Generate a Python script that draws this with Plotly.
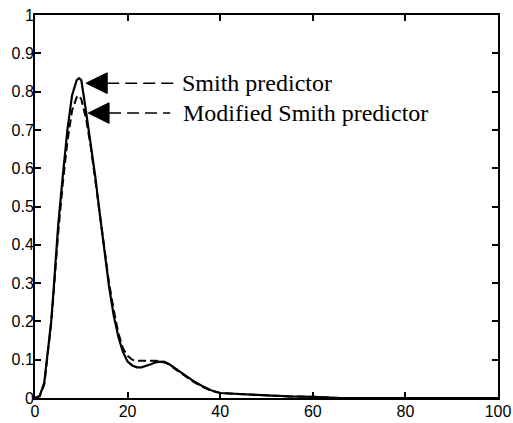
import plotly.graph_objects as go

# Smith predictor (solid)
x_smith = [0, 1, 2, 2.5, 3, 3.5, 4, 5, 6, 7, 8, 9, 9.5, 10, 11, 12, 13, 14, 15, 16, 17, 18, 19, 20,
           21, 22, 23, 24, 25, 26, 27, 28, 29, 30, 32, 34, 36, 38, 40, 45, 48, 50, 55, 60, 65, 66, 100]
y_smith = [0, 0.005, 0.04, 0.09, 0.15, 0.2, 0.28, 0.45, 0.58, 0.7, 0.79, 0.83, 0.835, 0.83, 0.75, 0.67,
           0.58, 0.48, 0.38, 0.29, 0.215, 0.16, 0.12, 0.095, 0.085, 0.08, 0.08, 0.083, 0.088, 0.093, 0.095,
           0.093, 0.088, 0.08, 0.062, 0.046, 0.032, 0.02, 0.013, 0.011, 0.008, 0.007, 0.004, 0.003, 0.002, 0, 0]

# Modified Smith predictor (dashed)
x_mod = [0, 1, 2, 2.5, 3, 3.5, 4, 5, 6, 7, 8, 9, 9.5, 10, 11, 12, 13, 14, 15, 16, 17, 18, 19, 20,
         21, 22, 24, 26, 28, 29, 30, 32, 34, 36, 38, 40, 45, 48, 50, 55, 60, 65, 66, 100]
y_mod = [0, 0.005, 0.035, 0.085, 0.14, 0.195, 0.27, 0.43, 0.56, 0.67, 0.75, 0.785, 0.79, 0.78, 0.73,
         0.66, 0.57, 0.48, 0.39, 0.3, 0.23, 0.17, 0.13, 0.11, 0.1, 0.097, 0.097, 0.097, 0.095, 0.088,
         0.078, 0.06, 0.044, 0.03, 0.019, 0.013, 0.011, 0.008, 0.007, 0.004, 0.003, 0.002, 0, 0]

x_ticks = [0, 20, 40, 60, 80, 100]
y_ticks = [0, 0.1, 0.2, 0.3, 0.4, 0.5, 0.6, 0.7, 0.8, 0.9, 1]
y_tick_labels = ["0", "0.1", "0.2", "0.3", "0.4", "0.5", "0.6", "0.7", "0.8", "0.9", "1"]

labels = ["Smith predictor", "Modified Smith predictor"]
# annotation anchor: (arrow tip x, arrow y, arrow base x, line end x, text x)
ann = [(11.0, 0.822, 15.6, 30.2, 31.4), (11.5, 0.744, 16.0, 29.2, 31.5)]
half_h = 0.027

fig = go.Figure()
fig.add_trace(go.Scatter(x=x_smith, y=y_smith, mode="lines",
                         line=dict(color="black", width=2.2), showlegend=False))
fig.add_trace(go.Scatter(x=x_mod, y=y_mod, mode="lines",
                         line=dict(color="black", width=2, dash="8px,4px"), showlegend=False))

shapes = []
annotations = []
for (tip, yy, base, lend, tx), lab in zip(ann, labels):
    shapes.append(dict(type="path", xref="x", yref="y",
                       path=f"M {tip} {yy} L {base} {yy + half_h} L {base} {yy - half_h} Z",
                       fillcolor="black", line=dict(color="black", width=1)))
    shapes.append(dict(type="line", xref="x", yref="y", x0=base, x1=lend, y0=yy, y1=yy,
                       line=dict(color="black", width=1.5, dash="12px,6px")))
    annotations.append(dict(x=tx, y=yy, xref="x", yref="y", text=lab, showarrow=False,
                            xanchor="left", yanchor="middle",
                            font=dict(family="Liberation Serif", size=24, color="black")))

fig.update_layout(
    width=513, height=423,
    margin=dict(l=35, r=15, t=15, b=25, autoexpand=False),
    paper_bgcolor="white", plot_bgcolor="white",
    shapes=shapes, annotations=annotations,
    font=dict(family="Liberation Sans", size=16, color="black"),
)
fig.update_xaxes(range=[0, 100], tickvals=x_ticks, ticks="inside", ticklen=6, tickwidth=1.5,
                 tickcolor="black", showline=True, linecolor="black", linewidth=2,
                 mirror="ticks", showgrid=False, zeroline=False, automargin=False,
                 ticklabelstandoff=-2)
fig.update_yaxes(range=[0, 1], tickvals=y_ticks, ticktext=y_tick_labels, ticks="inside", ticklen=6,
                 tickwidth=1.5, tickcolor="black", showline=True, linecolor="black", linewidth=2,
                 mirror="ticks", showgrid=False, zeroline=False, automargin=False,
                 ticklabelstandoff=-4)

fig.write_html("out.html", config={"displayModeBar": False},
               post_script="document.body.style.margin='0';")
